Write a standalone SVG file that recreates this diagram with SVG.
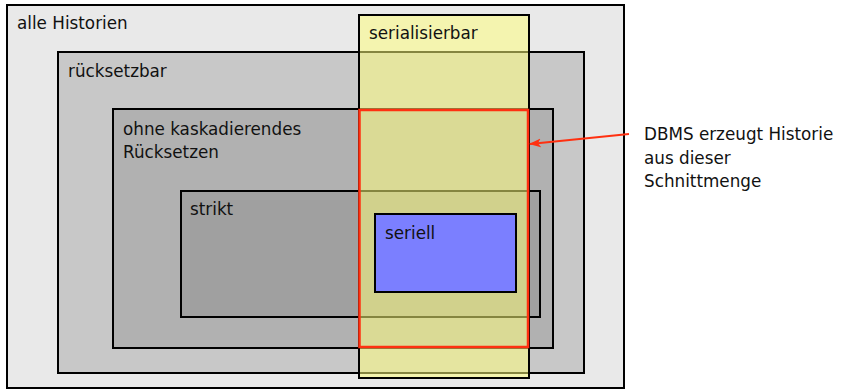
<svg xmlns="http://www.w3.org/2000/svg" width="841" height="389" viewBox="0 0 841 389">
  <defs>
    <style>
      .set { stroke: #000; stroke-width: 2; }
      .lbl { font-family: "DejaVu Sans", Verdana, sans-serif; font-size: 16.8px; fill: #111; }
      .conn { stroke: #ff3010; stroke-width: 2; fill: none; }
    </style>
    <marker id="arrow" viewBox="0 0 12 10" refX="11" refY="5" markerWidth="12" markerHeight="10" markerUnits="userSpaceOnUse" orient="auto">
      <path d="M0,0.5 L12,5 L0,9.5 L3,5 Z" fill="#ff3010"/>
    </marker>
  </defs>

  <rect width="841" height="389" fill="#ffffff"/>

  <g id="alle-historien">
    <rect class="set" x="7" y="5" width="617" height="383" fill="#e9e9e9"/>
    <text class="lbl" x="17" y="29">alle Historien</text>
  </g>

  <g id="ruecksetzbar">
    <rect class="set" x="58" y="52" width="526" height="321" fill="#c8c8c8"/>
    <text class="lbl" x="68" y="77">rücksetzbar</text>
  </g>

  <g id="ohne-kaskadierendes-ruecksetzen">
    <rect class="set" x="113" y="109" width="440" height="239" fill="#b1b1b1"/>
    <text class="lbl" x="123" y="135">ohne kaskadierendes</text>
    <text class="lbl" x="123" y="158">Rücksetzen</text>
  </g>

  <g id="strikt">
    <rect class="set" x="181" y="191" width="359" height="126" fill="#a0a0a0"/>
    <text class="lbl" x="190" y="215">strikt</text>
  </g>

  <g id="serialisierbar">
    <rect x="359" y="15" width="170" height="363" fill="#ffff7a" fill-opacity="0.52" stroke="#000" stroke-width="2"/>
    <text class="lbl" x="369" y="39">serialisierbar</text>
  </g>

  <g id="schnittmenge">
    <rect x="359.5" y="110" width="168.5" height="237" fill="none" stroke="#ff3010" stroke-width="2.5"/>
  </g>

  <g id="seriell">
    <rect class="set" x="375" y="214" width="141" height="78" fill="#7b7fff"/>
    <text class="lbl" x="385" y="239">seriell</text>
  </g>

  <g id="connectors">
    <line class="conn" x1="629" y1="134" x2="530" y2="144" marker-end="url(#arrow)"/>
  </g>

  <g id="hinweis">
    <text class="lbl" x="644" y="140">DBMS erzeugt Historie</text>
    <text class="lbl" x="644" y="164">aus dieser</text>
    <text class="lbl" x="644" y="187">Schnittmenge</text>
  </g>
</svg>
